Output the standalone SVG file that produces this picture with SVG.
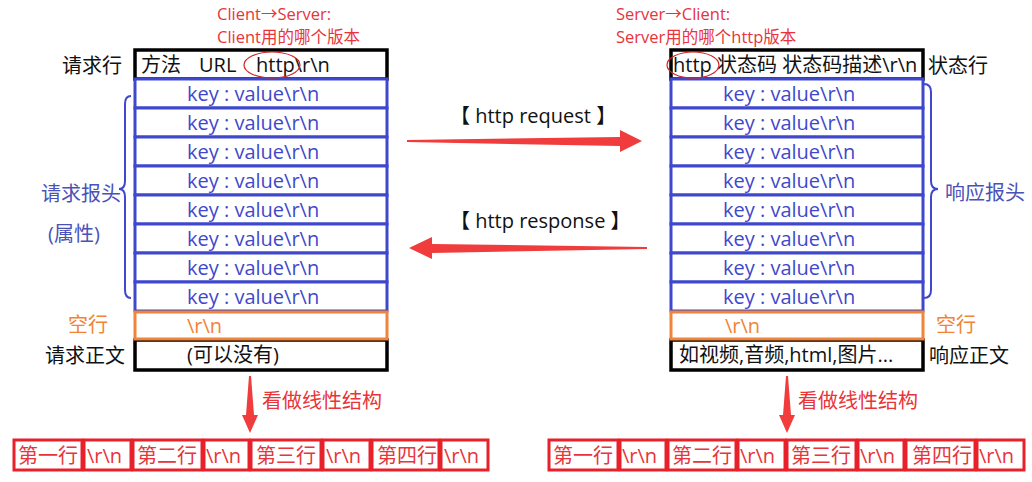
<svg xmlns="http://www.w3.org/2000/svg" width="1032" height="482" viewBox="0 0 1032 482">
<style>
text{font-family:"Open Sans","Noto Sans CJK SC",sans-serif;font-size:20px;fill:#111}
.blk{fill:none;stroke:#000;stroke-width:3.5}
.blue{fill:#fff;stroke:#3f48cc;stroke-width:3}
.org{fill:#fff;stroke:#f0843a;stroke-width:3}
.cell{fill:#fff;stroke:#e8202a;stroke-width:3}
.kv{fill:#3f48cc}
.ot{fill:#ef8535}
.rt{fill:#e8343a;font-size:16.5px}
.rb{fill:#e8343a;font-size:20px}
.bl{fill:#4a52b8}
.ell{fill:none;stroke:#d02828;stroke-width:1.2}
.arr{fill:#f03c3c}
.brace{fill:none;stroke:#3f48cc;stroke-width:2}
</style>
<rect width="1032" height="482" fill="#fff"/>

<g id="request">
  <rect class="blk" x="135" y="50" width="252" height="29"/>
  <rect class="blk" x="135" y="340" width="252" height="30"/>
  <rect class="blue" x="135" y="79" width="252" height="29"/>
  <rect class="blue" x="135" y="108" width="252" height="29"/>
  <rect class="blue" x="135" y="137" width="252" height="29"/>
  <rect class="blue" x="135" y="166" width="252" height="29"/>
  <rect class="blue" x="135" y="195" width="252" height="29"/>
  <rect class="blue" x="135" y="224" width="252" height="29"/>
  <rect class="blue" x="135" y="253" width="252" height="29"/>
  <rect class="blue" x="135" y="282" width="252" height="29"/>
  <rect class="org" x="135" y="312" width="252" height="27"/>
  <text x="141" y="72">方法</text>
  <text x="199" y="72">URL</text>
  <text x="256" y="72">http\r\n</text>
  <ellipse class="ell" cx="272" cy="65" rx="28" ry="13"/>
  <text class="kv" x="187" y="101">key : value\r\n</text>
  <text class="kv" x="187" y="130">key : value\r\n</text>
  <text class="kv" x="187" y="159">key : value\r\n</text>
  <text class="kv" x="187" y="188">key : value\r\n</text>
  <text class="kv" x="187" y="217">key : value\r\n</text>
  <text class="kv" x="187" y="246">key : value\r\n</text>
  <text class="kv" x="187" y="275">key : value\r\n</text>
  <text class="kv" x="187" y="304">key : value\r\n</text>
  <text class="ot" x="187" y="333">\r\n</text>
  <text x="187" y="362">(可以没有)</text>
  <text x="62" y="73">请求行</text>
  <text class="rt" x="217" y="20">Client→Server:</text>
  <text class="rt" x="217" y="43">Client用的哪个版本</text>
  <path class="brace" d="M131,96 Q125,96 125,104 L125,181 Q125,189 119,189 Q125,189 125,197 L125,290 Q125,298 131,298"/>
  <text class="bl" x="41" y="201">请求报头</text>
  <text class="bl" x="48" y="241">(属性)</text>
  <text class="ot" x="68" y="332">空行</text>
  <text x="45" y="363">请求正文</text>
</g>

<g id="response">
  <rect class="blk" x="671" y="50" width="252" height="29"/>
  <rect class="blk" x="671" y="340" width="252" height="30"/>
  <rect class="blue" x="671" y="79" width="252" height="29"/>
  <rect class="blue" x="671" y="108" width="252" height="29"/>
  <rect class="blue" x="671" y="137" width="252" height="29"/>
  <rect class="blue" x="671" y="166" width="252" height="29"/>
  <rect class="blue" x="671" y="195" width="252" height="29"/>
  <rect class="blue" x="671" y="224" width="252" height="29"/>
  <rect class="blue" x="671" y="253" width="252" height="29"/>
  <rect class="blue" x="671" y="282" width="252" height="29"/>
  <rect class="org" x="671" y="312" width="252" height="27"/>
  <text x="673" y="72">http 状态码 状态码描述\r\n</text>
  <ellipse class="ell" cx="693" cy="65" rx="26" ry="13"/>
  <text class="kv" x="723" y="101">key : value\r\n</text>
  <text class="kv" x="723" y="130">key : value\r\n</text>
  <text class="kv" x="723" y="159">key : value\r\n</text>
  <text class="kv" x="723" y="188">key : value\r\n</text>
  <text class="kv" x="723" y="217">key : value\r\n</text>
  <text class="kv" x="723" y="246">key : value\r\n</text>
  <text class="kv" x="723" y="275">key : value\r\n</text>
  <text class="kv" x="723" y="304">key : value\r\n</text>
  <text class="ot" x="725" y="333">\r\n</text>
  <text x="679" y="362">如视频,音频,html,图片...</text>
  <text x="928" y="73">状态行</text>
  <text class="rt" x="616" y="20">Server→Client:</text>
  <text class="rt" x="616" y="43">Server用的哪个http版本</text>
  <path class="brace" d="M924,84 Q931,84 931,92 L931,181 Q931,189 938,189 Q931,189 931,197 L931,290 Q931,298 924,298"/>
  <text class="bl" x="945" y="200">响应报头</text>
  <text class="ot" x="936" y="332">空行</text>
  <text x="929" y="363">响应正文</text>
</g>

<g id="linear-left">
  <rect class="cell" x="14" y="440" width="68" height="30"/>
  <rect class="cell" x="84" y="440" width="47" height="30"/>
  <rect class="cell" x="133" y="440" width="69" height="30"/>
  <rect class="cell" x="204" y="440" width="45" height="30"/>
  <rect class="cell" x="251" y="440" width="70" height="30"/>
  <rect class="cell" x="323" y="440" width="47" height="30"/>
  <rect class="cell" x="372" y="440" width="67" height="30"/>
  <rect class="cell" x="441" y="440" width="47" height="30"/>
  <text class="rb" x="18" y="463">第一行</text>
  <text class="rb" x="87" y="463">\r\n</text>
  <text class="rb" x="137" y="463">第二行</text>
  <text class="rb" x="206" y="463">\r\n</text>
  <text class="rb" x="256" y="463">第三行</text>
  <text class="rb" x="326" y="463">\r\n</text>
  <text class="rb" x="377" y="463">第四行</text>
  <text class="rb" x="444" y="463">\r\n</text>
</g>

<g id="linear-right">
  <rect class="cell" x="549" y="440" width="69" height="30"/>
  <rect class="cell" x="620" y="440" width="46" height="30"/>
  <rect class="cell" x="668" y="440" width="68" height="30"/>
  <rect class="cell" x="738" y="440" width="47" height="30"/>
  <rect class="cell" x="787" y="440" width="69" height="30"/>
  <rect class="cell" x="858" y="440" width="46" height="30"/>
  <rect class="cell" x="906" y="440" width="69" height="30"/>
  <rect class="cell" x="977" y="440" width="47" height="30"/>
  <text class="rb" x="553" y="463">第一行</text>
  <text class="rb" x="622" y="463">\r\n</text>
  <text class="rb" x="672" y="463">第二行</text>
  <text class="rb" x="740" y="463">\r\n</text>
  <text class="rb" x="791" y="463">第三行</text>
  <text class="rb" x="860" y="463">\r\n</text>
  <text class="rb" x="912" y="463">第四行</text>
  <text class="rb" x="979" y="463">\r\n</text>
</g>

<g id="connectors">
  <polygon class="arr" points="407,140 620,137 620,130 642,141 620,152 620,146 407,142"/>
  <text x="450" y="123">【 http request 】</text>
  <polygon class="arr" points="647,247 432,244 432,237 409,248 432,259 432,253 647,249"/>
  <text x="450" y="228">【 http response 】</text>
  <polygon class="arr" points="249,376 251,376 254,415 258,415 250,433 242,415 246,415"/>
  <text class="rb" x="262" y="408">看做线性结构</text>
  <polygon class="arr" points="786,376 788,376 791,415 795,415 787,433 779,415 783,415"/>
  <text class="rb" x="798" y="408">看做线性结构</text>
</g>
</svg>
